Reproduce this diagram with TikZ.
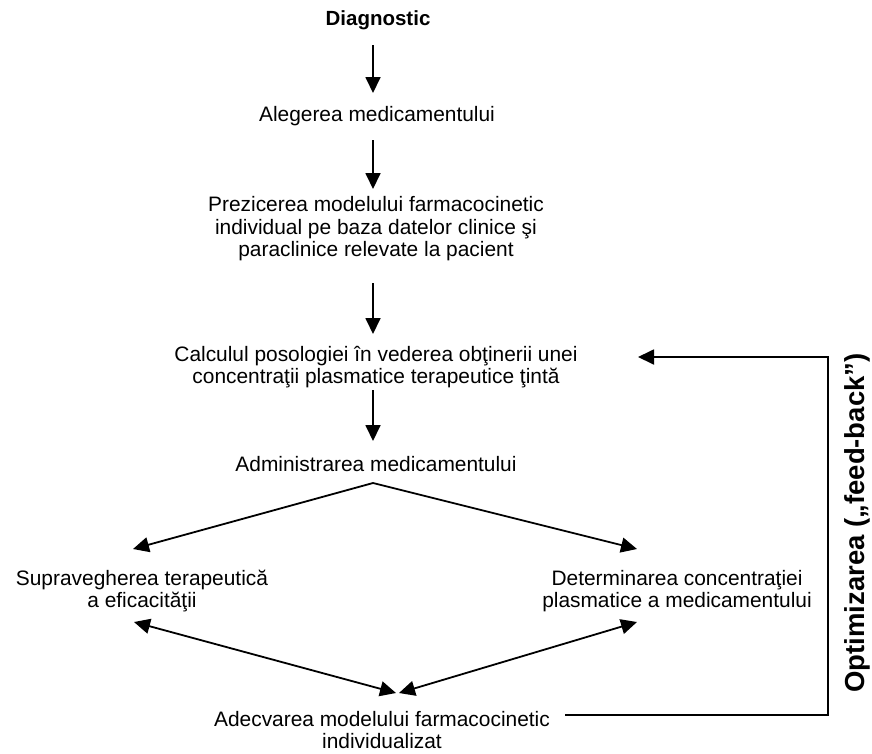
\documentclass[tikz,border=0pt]{standalone}
\usepackage{fontspec}
\setmainfont{Liberation Sans}
\usetikzlibrary{arrows.meta}
\begin{document}
\begin{tikzpicture}[x=1pt,y=-1pt,
  font=\fontsize{20.9}{22.5}\selectfont,
  txt/.style={align=center, inner sep=0pt},
  tip/.tip={Triangle[length=16pt,width=15pt]},
  arr/.style={-tip, line width=1.8pt},
  darr/.style={tip-tip, line width=1.8pt},
  fb/.style={line width=1.8pt}]
\useasboundingbox (0,0) rectangle (872,753);
\node[txt, font=\fontsize{20.5}{23}\selectfont\bfseries] (diag) at (378,20) {Diagnostic};
\node[txt] (aleg) at (377,116) {Alegerea medicamentului};
\node[txt] (prez) at (376,229) {Prezicerea modelului farmacocinetic\\individual pe baza datelor clinice şi\\paraclinice relevate la pacient};
\node[txt] (calc) at (376,367) {Calculul posologiei în vederea obţinerii unei\\concentraţii plasmatice terapeutice ţintă};
\node[txt] (adm) at (376,464) {Administrarea medicamentului};
\node[txt] (sup) at (142,591) {Supravegherea terapeutică\\a eficacităţii};
\node[txt] (det) at (677,591) {Determinarea concentraţiei\\plasmatice a medicamentului};
\node[txt] (adec) at (382,730) {Adecvarea modelului farmacocinetic\\individualizat};
\node[txt, rotate=90, font=\fontsize{27.5}{30}\selectfont\bfseries] (opt) at (857,523) {Optimizarea („feed-back”)};

\coordinate (c1s) at (373,45);  \coordinate (c1e) at (373,93);
\coordinate (c2s) at (373,140); \coordinate (c2e) at (373,189);
\coordinate (c3s) at (373,283); \coordinate (c3e) at (373,334);
\coordinate (c4s) at (373,390); \coordinate (c4e) at (373,441);
\coordinate (apex) at (373,483);
\coordinate (lt) at (133,549);
\coordinate (rt) at (637,549);
\coordinate (lu) at (134,622);
\coordinate (ru) at (637,622);
\coordinate (ll) at (396,693);
\coordinate (rl) at (399,693);
\coordinate (fbs) at (565,715);
\coordinate (fbc1) at (828,715);
\coordinate (fbc2) at (828,357);
\coordinate (fbe) at (638,357);

\draw[arr] (c1s) -- (c1e);
\draw[arr] (c2s) -- (c2e);
\draw[arr] (c3s) -- (c3e);
\draw[arr] (c4s) -- (c4e);
\draw[arr] (apex) -- (lt);
\draw[arr] (apex) -- (rt);
\draw[darr] (lu) -- (ll);
\draw[darr] (ru) -- (rl);
\draw[fb, -tip] (fbs) -- (fbc1) -- (fbc2) -- (fbe);
\end{tikzpicture}
\end{document}
